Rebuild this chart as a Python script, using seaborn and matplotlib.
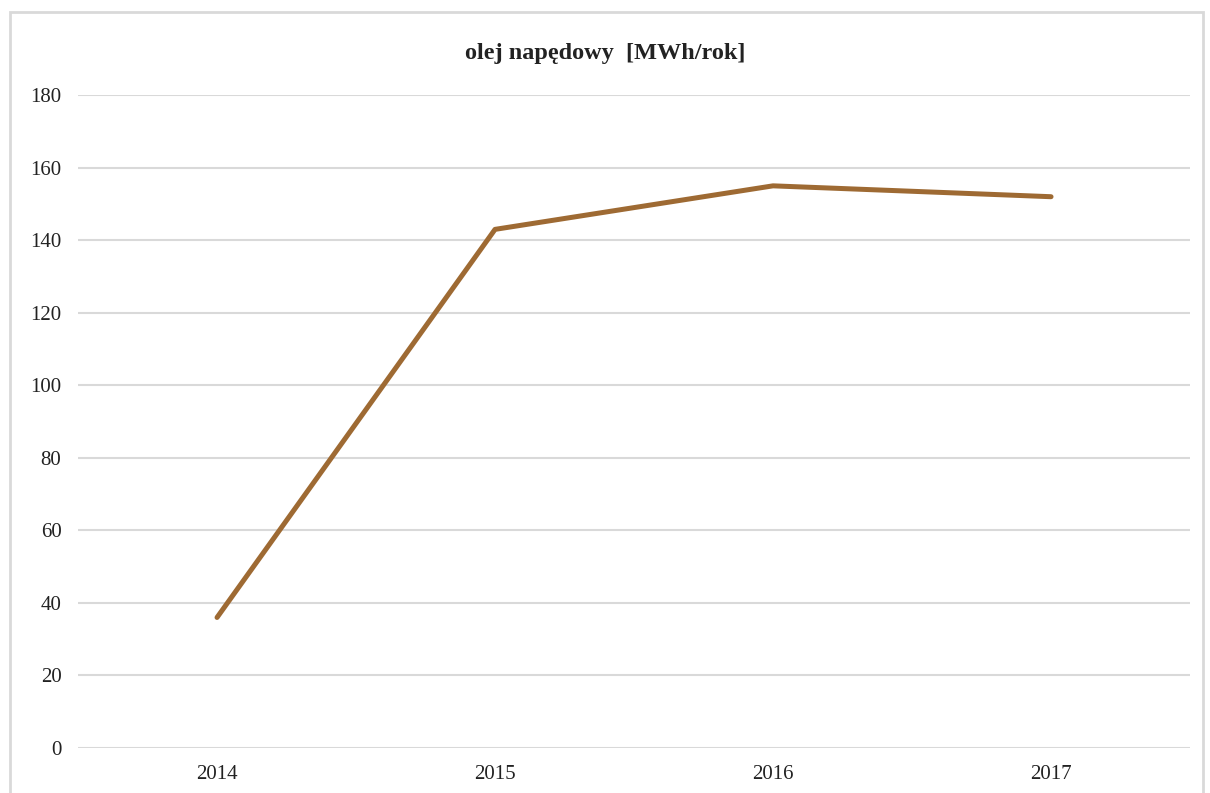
import pandas as pd
import matplotlib.pyplot as plt
import seaborn as sns
from matplotlib.patches import Rectangle

years = ['2014', '2015', '2016', '2017']
values = [36, 143, 155, 152]

df = pd.DataFrame({'rok': years, 'MWh': values})

sns.set_style('white')
plt.rcParams['font.family'] = ['Liberation Serif', 'DejaVu Serif']

fig = plt.figure(figsize=(12.1, 7.93), dpi=100)
ax = fig.add_axes([0.0645, 0.0567, 0.919, 0.8233])

sns.lineplot(data=df, x='rok', y='MWh', ax=ax, color='#9E6A33', linewidth=3.6,
             solid_capstyle='round')

ax.set_xlim(-0.5, 3.5)
ax.set_ylim(0, 180)
ax.set_yticks(range(0, 181, 20))
ax.yaxis.grid(True, color='#D9D9D9', linewidth=1.5)
ax.set_axisbelow(True)
for s in ax.spines.values():
    s.set_visible(False)
ax.tick_params(axis='both', length=0, labelsize=15, colors='#222222')
ax.tick_params(axis='x', pad=12)
ax.tick_params(axis='y', pad=12)
ax.set_xlabel('')
ax.set_ylabel('')

fig.text(0.5, 0.933, 'olej napędowy  [MWh/rok]', ha='center', va='center',
         fontsize=17.5, fontweight='bold', color='#222222')

fig.patches.append(Rectangle((10 / 1210, -0.01), 1193 / 1210, 1 - 12 / 793 + 0.01,
                             transform=fig.transFigure, fill=False,
                             edgecolor='#D9D9D9', linewidth=2))

fig.savefig('out.png', dpi=100)
